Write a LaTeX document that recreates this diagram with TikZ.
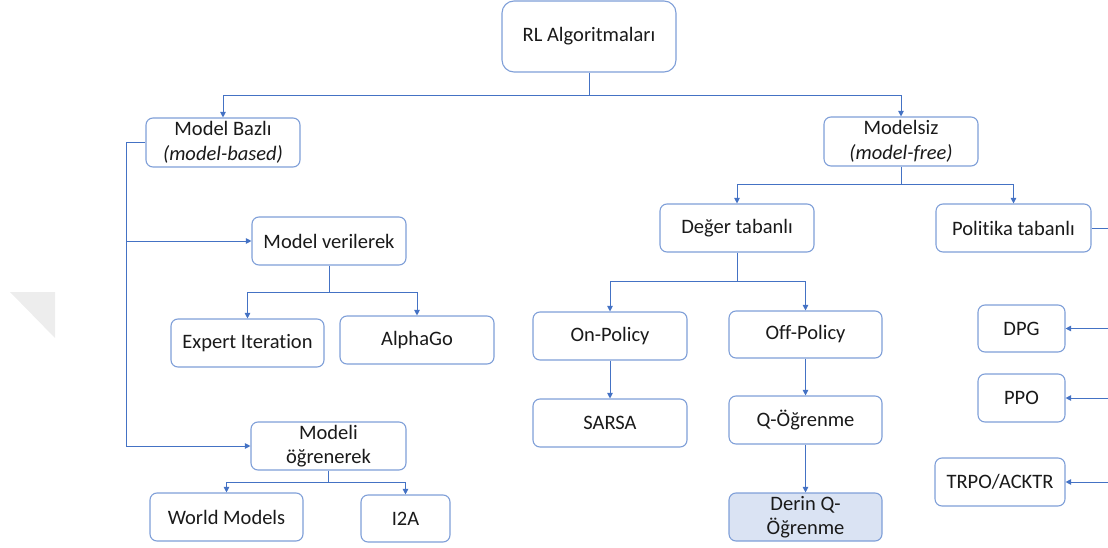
\documentclass[tikz,border=0pt]{standalone}
\usepackage{fontspec}
\setmainfont{Carlito}[Ligatures=NoCommon]
\usetikzlibrary{arrows.meta}
\definecolor{linkblue}{HTML}{4472C4}
\definecolor{boxblue}{HTML}{7F9FD8}
\definecolor{softfill}{HTML}{DAE3F3}
\definecolor{ink}{HTML}{1A1A1A}
\tikzset{
  box/.style={draw=boxblue, line width=1.1pt, rounded corners=7pt, fill=white,
    align=center, inner sep=0pt, text=ink, font=\fontsize{20.5}{24.5}\selectfont},
  link/.style={draw=linkblue, line width=1pt},
  arr/.style={link, -{Triangle[length=5.5pt,width=5.5pt]}},
}
\begin{document}
\begin{tikzpicture}[x=1pt, y=-1pt]
\useasboundingbox (0,0) rectangle (1108,548);

% faint mark on the left margin
\fill[gray!14] (10,292) -- (55,292) -- (55,338) -- cycle;

% boxes
\node[box, minimum width=174pt, minimum height=71pt, rounded corners=12pt] (rl) at (589,36.5) {RL Algoritmaları};
\node[box, minimum width=154pt, minimum height=49pt] (mb) at (223,142.5) {Model Bazlı\\\textit{(model-based)}};
\node[box, minimum width=154pt, minimum height=49pt] (mf) at (901,141.5) {Modelsiz\\\textit{(model-free)}};

\node[box, minimum width=154pt, minimum height=48pt] (mv) at (329,241) {Model verilerek};
\node[box, minimum width=153pt, minimum height=48pt] (ei) at (247.5,343) {Expert Iteration};
\node[box, minimum width=154pt, minimum height=48pt] (ag) at (417,340) {AlphaGo};
\node[box, minimum width=155pt, minimum height=48pt] (mo) at (328.5,446) {Modeli\\öğrenerek};
\node[box, minimum width=153pt, minimum height=48pt] (wm) at (226.5,517) {World Models};
\node[box, minimum width=89pt, minimum height=47pt] (i2a) at (405.5,518.5) {I2A};

\node[box, minimum width=154pt, minimum height=48pt] (dt) at (737,228) {Değer tabanlı};
\node[box, minimum width=155pt, minimum height=48pt] (pt) at (1013.5,228) {Politika tabanlı};
\node[box, minimum width=154pt, minimum height=48pt] (onp) at (610,336) {On-Policy};
\node[box, minimum width=153pt, minimum height=47pt] (offp) at (805.5,334.5) {Off-Policy};
\node[box, minimum width=154pt, minimum height=48pt] (sarsa) at (610,423) {SARSA};
\node[box, minimum width=153pt, minimum height=48pt] (ql) at (805.5,420) {Q-Öğrenme};
\node[box, minimum width=153pt, minimum height=48pt, fill=softfill] (dq) at (805.5,517) {Derin Q-\\Öğrenme};

\node[box, minimum width=87pt, minimum height=47pt] (dpg) at (1021.5,328.5) {DPG};
\node[box, minimum width=87pt, minimum height=48pt] (ppo) at (1021.5,398) {PPO};
\node[box, minimum width=130pt, minimum height=48pt] (trpo) at (1000,482) {TRPO/ACKTR};

% junction points
\coordinate (j0) at (589,96);
\coordinate (tt) at (126,142.5);
\coordinate (tb) at (126,446);
\coordinate (j1) at (329,292);
\coordinate (j2) at (328.5,482);
\coordinate (j3) at (901,185);
\coordinate (j4) at (737,281);
\coordinate (edge) at (1108,0);

% root split
\draw[link] (rl.south) -- (j0);
\draw[arr] (j0) -| (mb.north);
\draw[arr] (j0) -| (mf.north);

% model-based trunk
\draw[link] (mb.west) -- (tt) -- (tb);
\draw[arr] (mv.west -| tt) -- (mv.west);
\draw[arr] (tb) -- (mo.west);

\draw[link] (mv.south) -- (j1);
\draw[arr] (j1) -| (ei.north);
\draw[arr] (j1) -| (ag.north);

\draw[link] (mo.south) -- (j2);
\draw[arr] (j2) -| (wm.north);
\draw[arr] (j2) -| (i2a.north);

% model-free branch
\draw[link] (mf.south) -- (j3);
\draw[arr] (j3) -| (dt.north);
\draw[arr] (j3) -| (pt.north);
\draw[link] (pt.east) -- (pt.east -| edge);

\draw[link] (dt.south) -- (j4);
\draw[arr] (j4) -| (onp.north);
\draw[arr] (j4) -| (offp.north);

\draw[arr] (onp.south) -- (sarsa.north);
\draw[arr] (offp.south) -- (ql.north);
\draw[arr] (ql.south) -- (dq.north);

% policy methods fed from the right
\draw[arr] (dpg.east -| edge) -- (dpg.east);
\draw[arr] (ppo.east -| edge) -- (ppo.east);
\draw[arr] (trpo.east -| edge) -- (trpo.east);
\end{tikzpicture}
\end{document}
